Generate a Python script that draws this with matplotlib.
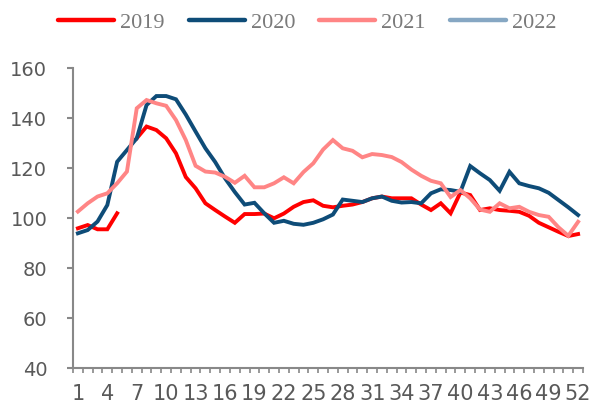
"""Weekly index by year (2019-2022), redrawn from the reference chart."""

from __future__ import annotations

import matplotlib

matplotlib.use("Agg")
import matplotlib.pyplot as plt
import numpy as np

WEEKS = list(range(1, 53))
LABEL_WEEKS = list(range(1, 53, 3))

VALUES_2019 = [
    96, 97.3, 95.6, 95.6, 102, np.nan, 132, 136.7, 135.3, 132,
    126, 116.5, 112, 106, 103.3, 100.7, 98.2, 101.7, 101.7, 101.9,
    100, 101.9, 104.6, 106.5, 107.2, 105, 104.4, 105, 105.5, 106.5,
    108, 108.7, 108, 108, 108, 105.5, 103.3, 106, 102, 110.3,
    109.3, 103.3, 104, 103.3, 103, 102.6, 101, 98.2, 96.4, 94.6,
    92.9, 93.7,
]
VALUES_2020 = [
    94, 95.3, 98.7, 105.3, 122.6, 127.3, 132, 145.3, 148.9, 148.9,
    147.6, 141.5, 134.7, 128, 122.5, 116, 110.5, 105.5, 106.2, 102,
    98.2, 99, 97.8, 97.4, 98.2, 99.6, 101.5, 107.5, 107, 106.5,
    108, 108.7, 107, 106.3, 106.5, 106, 110, 111.6, 111.3, 110.6,
    120.9, 118, 115.3, 111, 118.6, 114, 112.9, 112, 110.2, 107.3,
    104.4, 101.3,
]
VALUES_2021 = [
    102.7, 106, 108.7, 110, 114, 118.7, 144, 147.3, 146, 145,
    139.3, 131.3, 121, 118.7, 118.3, 116.6, 114.2, 117, 112.4, 112.4,
    114, 116.4, 114, 118.5, 122, 127.5, 131.3, 128, 127, 124.4,
    125.7, 125.3, 124.5, 122.5, 119.5, 117, 115, 114, 108.5, 111.3,
    108, 103.5, 102.6, 106, 104, 104.6, 102.6, 101.3, 100.6, 96.4,
    93, 98.6,
]
VALUES_2022: list[float] = []

SERIES = [
    ("2019", VALUES_2019, "#FF0000"),
    ("2020", VALUES_2020, "#0E4C78"),
    ("2021", VALUES_2021, "#FF8585"),
    ("2022", VALUES_2022, "#86A7C3"),
]

AXIS_GREY = "#888888"
TEXT_GREY = "#595959"


def main() -> None:
    fig = plt.figure(figsize=(5.92, 4.07), dpi=100)
    ax = fig.add_axes([0.1233, 0.0951, 0.8615, 0.7371])

    handles = []
    for label, values, color in SERIES:
        xs = WEEKS[: len(values)]
        (line,) = ax.plot(xs, values, color=color, linewidth=2.8, label=label,
                          solid_joinstyle="miter")
        handles.append(line)

    ax.set_xlim(0.5, 52.5)
    ax.set_ylim(40, 160)
    ax.set_yticks(range(40, 161, 20))

    ax.set_xticks(LABEL_WEEKS)
    ax.set_xticklabels([str(w) for w in LABEL_WEEKS])
    ax.set_xticks(np.arange(0.5, 53, 1.0), minor=True)

    for side in ("top", "right"):
        ax.spines[side].set_visible(False)
    for side in ("left", "bottom"):
        ax.spines[side].set_color(AXIS_GREY)
        ax.spines[side].set_linewidth(1.5)

    ax.tick_params(axis="x", which="major", length=0, pad=11,
                   labelsize=15, labelcolor=TEXT_GREY)
    ax.tick_params(axis="x", which="minor", length=3.5, width=1.2,
                   color=AXIS_GREY, direction="out")
    ax.tick_params(axis="y", which="major", length=4.5, width=1.5,
                   color=AXIS_GREY, pad=14, labelsize=14, labelcolor=TEXT_GREY)
    for tick in ax.get_xticklabels() + ax.get_yticklabels():
        tick.set_fontfamily("DejaVu Sans")

    leg = fig.legend(
        handles=handles,
        loc="center",
        bbox_to_anchor=(0.519, 0.944),
        ncol=4,
        frameon=False,
        handlelength=2.5,
        handletextpad=0.27,
        columnspacing=1.1,
        prop={"family": "Liberation Serif", "size": 16},
    )
    for text in leg.get_texts():
        text.set_color("#7A7A7A")
    for line in leg.get_lines():
        line.set_linewidth(3.2)
        line.set_solid_capstyle("round")

    fig.savefig("out.png", dpi=100)
    plt.close(fig)


if __name__ == "__main__":
    main()
